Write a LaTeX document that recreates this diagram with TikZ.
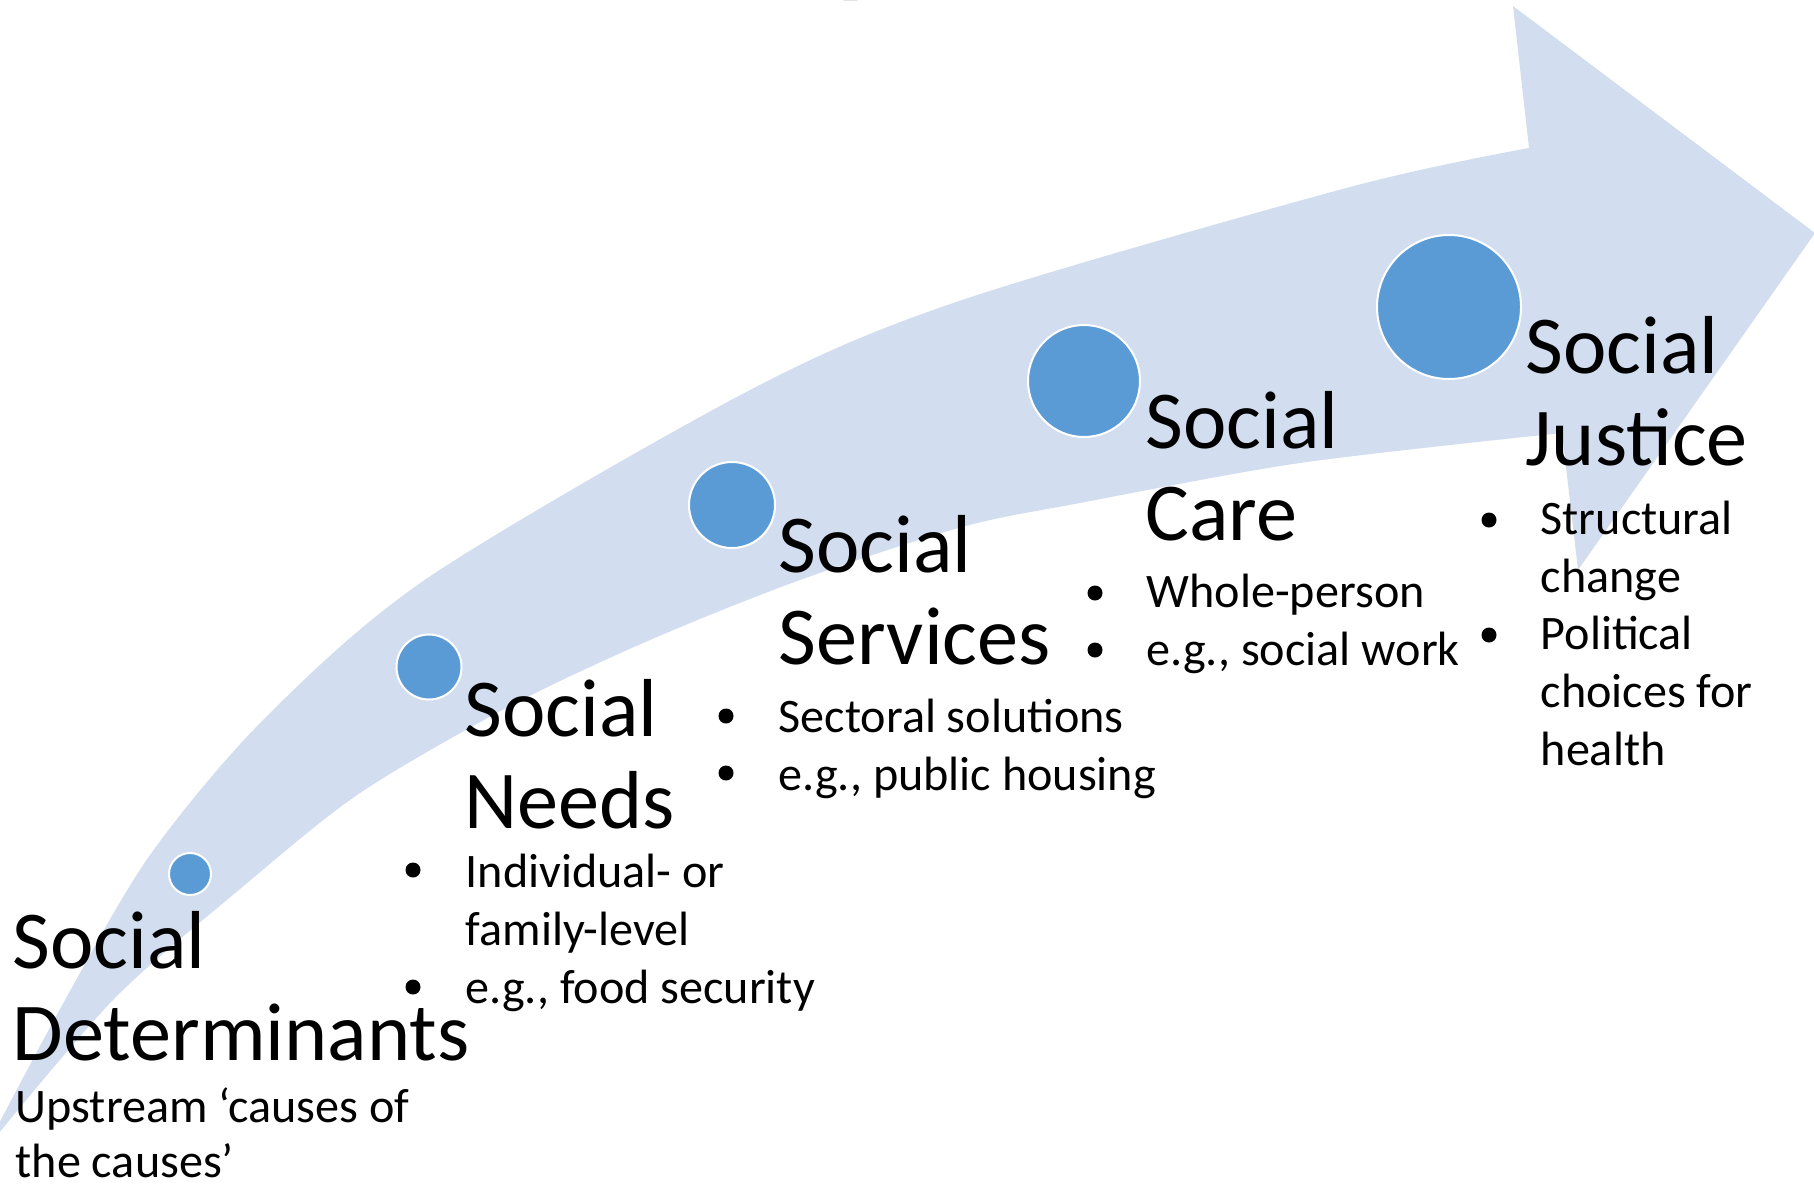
\documentclass[tikz,border=0pt]{standalone}
\usepackage{fontspec}
\setmainfont{Carlito}
\definecolor{bandblue}{RGB}{210,222,239}
\definecolor{dotblue}{RGB}{91,155,213}
\tikzset{
  stepdot/.style={circle, fill=dotblue, draw=white, line width=0.2mm, inner sep=0pt},
  head/.style={anchor=base west, align=left, inner sep=0pt, font=\fontsize{23.4}{25.9}\selectfont},
  body/.style={anchor=base west, align=left, inner sep=0pt, font=\fontsize{13.7}{16.4}\selectfont},
}
\begin{document}
\begin{tikzpicture}[x=0.1mm, y=-0.1mm]
  \useasboundingbox (0,0) rectangle (1814,1185);
  \clip (0,0) rectangle (1814,1185);
  % curved arrow
  \fill[bandblue] plot[smooth] coordinates {(-15,1150) (65,1000) (150,855) (265,718) (429,577) (750,390) (962,300) (1350,187) (1529,148)}
    -- (1513,6) -- (1815,233) -- (1578,570)
    -- plot[smooth] coordinates {(1562,433) (1300,463) (1080,503) (962,527) (800,580) (650,640) (510,706) (360,793) (240,889) (113,1000) (-15,1150)}
    -- cycle;
  % cut title
  \node[anchor=base west, inner sep=0pt, font=\bfseries\fontsize{40}{48}\selectfont] (title) at (830,-22) {y};
  % steps (nodes sit on the baseline of their last line)
  \node[stepdot, minimum size=4.2mm] (detdot) at (190,874) {};
  \node[stepdot, minimum size=6.5mm] (needsdot) at (429,667) {};
  \node[stepdot, minimum size=8.6mm] (servdot) at (732,505) {};
  \node[stepdot, minimum size=11.2mm] (caredot) at (1084,381) {};
  \node[stepdot, minimum size=14.4mm] (justdot) at (1449,307) {};
  \node[head] (dethead) at (12,1060) {Social\\Determinants};
  \node[body, font=\fontsize{13.7}{15.6}\selectfont] (detbody) at (15,1177) {Upstream ‘causes of\\the causes’};
  \node[head] (needshead) at (464,828) {Social\\Needs};
  \node[body] (needsbody) at (465,1003) {Individual- or\\family-level\\e.g., food security};
  \node[head] (servhead) at (778,664) {Social\\Services};
  \node[body] (servbody) at (778,790) {Sectoral solutions\\e.g., public housing};
  \node[head] (carehead) at (1145,540) {Social\\Care};
  \node[body] (carebody) at (1146,665) {Whole-person\\e.g., social work};
  \node[head] (justhead) at (1525,465) {Social\\Justice};
  \node[body] (justbody) at (1540,765) {Structural\\change\\Political\\choices for\\health};
  % bullets
  \foreach \bx/\by in {413/870, 413/987, 726/716, 726/773, 1095/593, 1095/650, 1489/520, 1489/635}
    \fill (\bx,\by) circle (0.75mm);
\end{tikzpicture}
\end{document}
